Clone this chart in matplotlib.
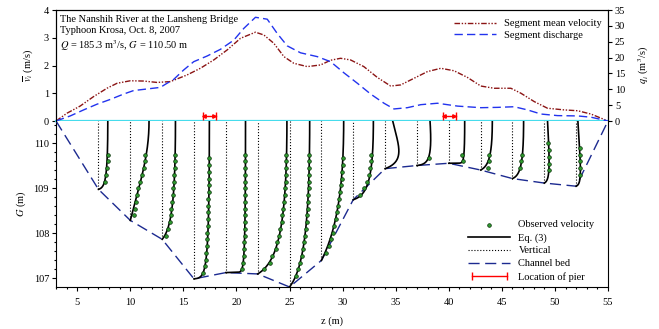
import numpy as np
import matplotlib.pyplot as plt
from matplotlib.lines import Line2D
from matplotlib.legend_handler import HandlerLine2D
from matplotlib.ticker import MultipleLocator

plt.rcParams["font.family"] = ["Liberation Serif", "DejaVu Serif"]
plt.rcParams["mathtext.fontset"] = "stix"
plt.rcParams["font.size"] = 7.5

WATER = 110.50      # water surface G (m)
SCALE = 0.75        # m of z drawn per 1 m/s of velocity

# segment mean velocity (m/s) across the section
vel_z = [3.0, 4.03, 5.28, 6.54, 7.80, 8.75, 10.0, 11.25, 12.52, 13.77, 15.35,
         16.6, 17.86, 19.12, 20.38, 21.79, 22.58, 23.52, 24.47, 25.4, 26.67,
         27.92, 28.87, 29.81, 30.75, 32.0, 33.27, 34.53, 35.47, 36.73, 37.99,
         39.25, 40.5, 41.76, 43.02, 44.27, 45.85, 46.8, 48.05, 49.3, 50.88,
         52.14, 53.4, 55.0]
vel_v = [0.0, 0.28, 0.54, 0.88, 1.18, 1.36, 1.45, 1.44, 1.39, 1.42, 1.66,
         1.90, 2.20, 2.56, 2.98, 3.20, 3.10, 2.80, 2.32, 2.08, 1.96,
         2.02, 2.19, 2.26, 2.20, 1.96, 1.57, 1.26, 1.30, 1.54, 1.78,
         1.90, 1.81, 1.57, 1.26, 1.18, 1.18, 1.00, 0.70, 0.46, 0.40,
         0.37, 0.25, 0.0]
# segment discharge (m3/s)
dis_z = [3.0, 4.34, 5.6, 6.86, 8.11, 9.37, 10.31, 11.58, 12.83, 13.46, 14.08,
         15.03, 15.97, 17.24, 18.49, 19.75, 20.69, 21.79, 22.9, 23.84, 24.78,
         26.04, 27.61, 28.87, 30.12, 31.39, 32.64, 33.9, 34.84, 36.1, 37.36,
         38.93, 40.82, 43.02, 44.59, 46.16, 47.42, 48.68, 50.25, 52.14, 53.4, 55.0]
dis_q = [0.0, 1.6, 3.5, 5.3, 6.8, 8.5, 9.6, 10.1, 10.6, 11.9, 13.1,
         16.1, 18.7, 20.5, 22.6, 25.5, 29.2, 32.7, 32.1, 27.6, 23.7,
         21.5, 20.3, 18.7, 15.2, 11.9, 8.5, 5.6, 3.8, 4.2, 5.15,
         5.6, 4.7, 4.2, 4.3, 4.5, 3.5, 2.2, 1.7, 1.6, 1.2, 0.0]

# piers (z range)
piers = [(16.85, 18.05), (39.45, 40.65)]

# channel bed
bed_z = [3, 7, 10, 13, 16, 19, 22, 25, 28, 31, 34, 37, 40, 43, 46, 49, 52, 55]
bed_g = [110.50, 108.98, 108.29, 107.87, 106.99, 107.13, 107.10, 106.81, 107.40,
         108.75, 109.44, 109.51, 109.56, 109.41, 109.22, 109.12, 109.05, 110.50]

# verticals and Eq. (3) parameters
vert_z = bed_z[1:-1]
vert_bed = bed_g[1:-1]
u_max = [1.17, 2.35, 1.67, 1.93, 2.47, 3.67, 2.53, 2.80, 2.53, 1.73, 1.73,
         2.00, 1.47, 1.40, 0.60, 0.53]
m_par = [3.5, -1.5, 1.8, 5.5, 15, 2, 1.5, 0.3, 2.5, 0.5, 3, 15, 2, 2.5, 2, 2]
dip = [0, 0, 0, 0, 0, 0, 0, 0, 0, 0.63, 0.4, 0, 0, 0, 0.65, 0.75]

# observed velocities (m/s), from the top bin downward every 0.15 m
obs_top = [109.75, 109.75, 109.75, 109.67, 109.75, 109.75, 109.75, 109.67,
           109.75, 109.75, 109.68, 109.75, 109.75, 109.75, 110.00, 109.90]
obs_u = [
    [1.15, 1.14, 1.07, 0.90, 0.77],
    [1.89, 1.80, 1.68, 1.47, 1.17, 0.97, 0.84, 0.76, 0.55, 0.41],
    [1.63, 1.60, 1.56, 1.51, 1.44, 1.39, 1.33, 1.27, 1.17, 1.07, 0.93, 0.75, 0.53],
    [1.92, 1.91, 1.89, 1.88, 1.87, 1.84, 1.81, 1.79, 1.76, 1.73, 1.71, 1.68,
     1.64, 1.60, 1.55, 1.48, 1.36, 1.10],
    [2.45, 2.45, 2.44, 2.44, 2.43, 2.43, 2.41, 2.40, 2.40, 2.39, 2.37, 2.36,
     2.35, 2.32, 2.29, 2.25, 2.20, 2.08],
    [3.60, 3.61, 3.55, 3.52, 3.50, 3.43, 3.38, 3.30, 3.24, 3.11, 3.02, 2.85,
     2.73, 2.47, 2.27, 1.85, 1.50, 0.80],
    [2.50, 2.50, 2.46, 2.45, 2.40, 2.39, 2.36, 2.30, 2.26, 2.18, 2.13, 2.02,
     1.94, 1.81, 1.70, 1.51, 1.35, 1.06, 0.79],
    [2.70, 2.66, 2.60, 2.53, 2.45, 2.36, 2.25, 2.12, 1.98, 1.82, 1.63, 1.42,
     1.17, 0.90, 0.58],
    [2.27, 2.20, 2.11, 1.96, 1.77, 1.40, 0.87],
    [],
    [1.47],
    [1.72, 1.80],
    [1.07, 1.07, 0.87],
    [1.15, 1.05, 0.93],
    [0.51, 0.53, 0.56, 0.56, 0.53],
    [0.50, 0.52, 0.53, 0.52, 0.48],
]

RED = "#8b1414"
BLUE = "#2233ee"
NAVY = "#1c2a90"
CYAN = "#46dcec"
GREEN = "#2e9a2e"
DOT_EDGE = "#0a300a"


def eq3(y, depth, um, m, hd):
    """Entropy velocity distribution, Eq. (3)."""
    xi = y / (depth * (1.0 - hd))
    f = xi * np.exp(1.0 - xi)
    if abs(m) < 1e-6:
        return um * f
    return um * np.log1p((np.exp(m) - 1.0) * f) / m


fig = plt.figure(figsize=(6.59, 3.29), dpi=100)
ax_top = fig.add_axes([0.085, 0.6322, 0.8376, 0.3374])
ax_bot = fig.add_axes([0.085, 0.1277, 0.8376, 0.5046])
ax_q = ax_top.twinx()

# ---- top panel ----
ax_top.plot(vel_z, vel_v, color=RED, lw=1.0, dashes=(4, 1.2, 1, 1.2, 1, 1.2),
            label="Segment mean velocity")
ax_q.plot(dis_z, dis_q, color=BLUE, lw=1.0, dashes=(6, 3),
          label="Segment discharge")
ax_top.axhline(0, color=CYAN, lw=1.6, zorder=5, clip_on=False)
for a, b in piers:
    ax_top.plot([a, b], [0.19, 0.19], color="red", lw=1.0, marker="|",
                ms=6, mew=1.0, zorder=6)
    ax_top.plot([a + 0.12], [0.19], color="red", marker="<", ms=2.5, zorder=6)
    ax_top.plot([b - 0.12], [0.19], color="red", marker=">", ms=2.5, zorder=6)

ax_top.set_xlim(3, 55)
ax_top.set_ylim(0, 4)
ax_q.set_ylim(0, 35)
ax_top.set_yticks(range(0, 5))
ax_q.set_yticks(range(0, 36, 5))
ax_top.set_xticks([])
ax_top.spines["bottom"].set_visible(False)
ax_q.spines["bottom"].set_visible(False)
ax_top.set_ylabel(r"$\overline{v}_i$ (m/s)", labelpad=6)
ax_q.set_ylabel(r"$q_i$ (m$^3$/s)", labelpad=8)
ax_top.tick_params(direction="out", length=3, width=0.8, pad=2)
ax_q.tick_params(direction="out", length=3, width=0.8, pad=2)

ax_top.text(0.008, 0.952,
            "The Nanshih River at the Lansheng Bridge\n"
            "Typhoon Krosa, Oct. 8, 2007\n"
            r"$Q$ = 185.3 m$^3$/s, $G$ = 110.50 m",
            transform=ax_top.transAxes, va="top", ha="left", linespacing=1.25)

h1, l1 = ax_top.get_legend_handles_labels()
h2, l2 = ax_q.get_legend_handles_labels()
ax_q.legend(h1[:1] + h2, l1[:1] + l2, loc="upper right",
            bbox_to_anchor=(0.996, 0.955), frameon=False, handlelength=4,
            handletextpad=0.8, labelspacing=0.2, borderaxespad=0)

# ---- bottom panel ----
ax_bot.plot(bed_z, bed_g, color=NAVY, lw=1.0, dashes=(8, 4), zorder=3)
for i, z0 in enumerate(vert_z):
    g0 = vert_bed[i]
    depth = WATER - g0
    ax_bot.plot([z0, z0], [g0, WATER], color="black", lw=0.8, ls=":", zorder=2)
    y = np.linspace(0, depth, 300)
    u = eq3(y, depth, u_max[i], m_par[i], dip[i])
    ax_bot.plot(z0 + SCALE * u, g0 + y, color="black", lw=1.2, zorder=4)
    if obs_u[i]:
        g_obs = obs_top[i] - 0.15 * np.arange(len(obs_u[i]))
        ax_bot.scatter(z0 + SCALE * np.array(obs_u[i]), g_obs, s=7,
                       c=GREEN, edgecolors=DOT_EDGE, linewidths=0.5, zorder=5)

ax_bot.set_xlim(3, 55)
ax_bot.set_ylim(106.81, WATER)
ax_bot.set_yticks([107, 108, 109, 110])
ax_bot.yaxis.set_minor_locator(MultipleLocator(0.2))
ax_bot.set_xticks(range(5, 56, 5))
ax_bot.xaxis.set_minor_locator(MultipleLocator(1))
ax_bot.spines["top"].set_visible(False)
ax_bot.tick_params(which="both", direction="out", width=0.8)
ax_bot.tick_params(axis="x", which="both", pad=5)
ax_bot.tick_params(axis="y", which="both", pad=2)
ax_bot.tick_params(which="major", length=3)
ax_bot.tick_params(which="minor", length=1.5)
ax_bot.set_xlabel("z (m)", labelpad=7)
ax_bot.set_ylabel(r"$G$ (m)", labelpad=4)

obs_h = ax_bot.scatter([], [], s=7, c=GREEN, edgecolors=DOT_EDGE, linewidths=0.5)
pier_h = Line2D([], [], color="red", lw=1.0, marker="|", ms=6, mew=1.0)
leg_handles = [
    obs_h,
    Line2D([], [], color="black", lw=1.2),
    Line2D([], [], color="black", lw=0.8, ls=":"),
    Line2D([], [], color=NAVY, lw=1.0, dashes=(8, 4)),
    pier_h,
]
leg_labels = ["Observed velocity", "Eq. (3)", "Vertical", "Channel bed",
              "Location of pier"]
ax_bot.legend(leg_handles, leg_labels, loc="lower right",
              bbox_to_anchor=(0.985, 0.0), frameon=False, handlelength=4,
              handletextpad=0.8, labelspacing=0.35, borderaxespad=0.1,
              scatterpoints=1, handler_map={pier_h: HandlerLine2D(numpoints=2)})

fig.savefig("out.png", dpi=100)
